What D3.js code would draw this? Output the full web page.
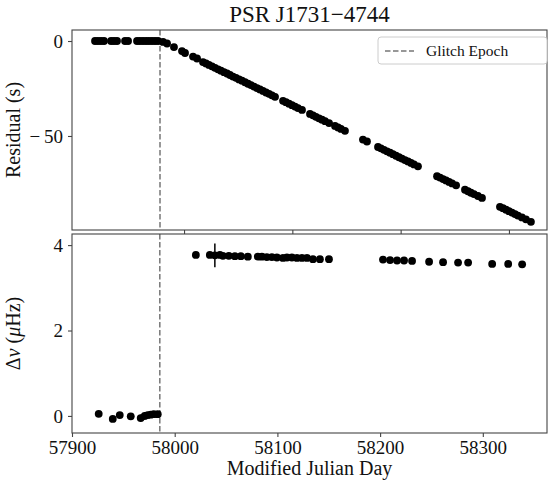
<!DOCTYPE html>
<html>
<head>
<meta charset="utf-8">
<script src="https://cdn.jsdelivr.net/npm/d3@7"></script>
<style>
  body { margin: 0; background: #fff; }
  svg text { font-family: "Liberation Serif", "DejaVu Serif", serif; fill: #111; }
  .axis path, .axis line { stroke: #444; stroke-width: 1.1; }
</style>
</head>
<body>
<svg width="549" height="485"></svg>
<script>
// glitch epoch (MJD)
const glitchEpoch = 57985.5;

// timing residuals, top panel
const resMJD = [
  57925.5, 57928.2, 57931.0, 57933.8, 57940.3, 57943.0, 57945.8, 57953.2, 57956.0,
  57964.3, 57967.0, 57969.8, 57972.6, 57975.3, 57978.1, 57980.9, 57983.7,
  57988.3, 57992.0, 57998.4, 58005.8, 58008.6, 58016.0, 58019.7,
  58025.2, 58028.0, 58030.7, 58033.5, 58036.3, 58039.1, 58041.8, 58044.6, 58047.4, 58050.1,
  58052.9, 58055.7, 58058.5, 58061.2, 58064.0, 58066.8, 58069.5, 58072.3, 58075.1, 58077.8,
  58080.6, 58083.4, 58086.2, 58088.9, 58091.7,
  58099.1, 58101.8, 58104.6, 58107.4, 58110.2, 58112.9, 58116.6,
  58124.0, 58126.8, 58129.5, 58132.3, 58135.1, 58137.9, 58141.6,
  58147.1, 58149.9, 58152.6, 58156.3,
  58172.9, 58176.6,
  58186.8, 58189.5, 58192.3, 58195.1, 58197.9, 58200.6, 58203.4, 58206.2, 58208.9, 58211.7,
  58214.5, 58217.3, 58220.0, 58223.7,
  58241.3, 58244.1, 58246.9, 58249.6, 58252.4, 58255.2, 58258.9,
  58267.1, 58269.9, 58272.6, 58275.4, 58279.1, 58282.8,
  58299.4, 58302.2, 58305.0, 58307.7, 58310.5, 58313.3, 58316.0, 58319.7, 58323.4, 58328.0
];
const resSec = [
  0.0, 0.0, 0.0, 0.0, 0.0, 0.0, 0.0, 0.0, 0.0,
  0.0, 0.0, 0.0, 0.0, 0.0, 0.0, 0.0, 0.0,
  -0.5, -1.3, -3.2, -5.3, -6.3, -8.2, -9.2,
  -11.1, -11.8, -12.6, -13.3, -14.1, -14.9, -15.6, -16.4, -17.1, -17.9,
  -18.7, -19.4, -20.2, -20.9, -21.7, -22.5, -23.2, -24.0, -24.8, -25.5,
  -26.3, -27.1, -27.8, -28.6, -29.4,
  -31.5, -32.2, -33.0, -33.8, -34.5, -35.3, -36.3,
  -38.4, -39.1, -39.9, -40.7, -41.4, -42.2, -43.2,
  -44.7, -45.5, -46.3, -47.3,
  -51.9, -52.9,
  -55.8, -56.5, -57.3, -58.1, -58.8, -59.6, -60.4, -61.2, -61.9, -62.7,
  -63.4, -64.2, -65.0, -66.0,
  -71.2, -71.9, -72.7, -73.4, -74.2, -75.0, -76.0,
  -78.3, -79.1, -79.9, -80.6, -81.6, -82.6,
  -87.3, -88.0, -88.8, -89.6, -90.3, -91.1, -91.9, -92.9, -93.9, -95.2
];

// frequency step, bottom panel
const dnuMJD = [
  57926.0, 57939.7, 57946.5, 57957.2, 57966.9, 57970.8, 57973.8, 57976.7, 57979.6, 57983.5,
  58020.6, 58034.2, 58039.1, 58044.0, 58046.9, 58052.7, 58058.6, 58064.4, 58071.2,
  58080.9, 58084.9, 58089.7, 58094.6, 58099.5, 58105.4, 58109.3, 58114.1, 58119.0,
  58123.9, 58128.8, 58134.6, 58141.4, 58150.2,
  58202.8, 58209.7, 58216.5, 58223.3, 58231.1, 58247.7, 58261.3, 58275.9, 58285.7,
  58309.1, 58324.7, 58338.3
];
const dnuVal = [
  0.05, -0.07, 0.02, -0.01, -0.05, 0.0, 0.02, 0.03, 0.04, 0.04,
  3.77, 3.77, 3.76, 3.77, 3.75, 3.75, 3.74, 3.74, 3.73,
  3.73, 3.73, 3.72, 3.72, 3.71, 3.70, 3.71, 3.71, 3.70,
  3.70, 3.70, 3.67, 3.67, 3.67,
  3.66, 3.65, 3.64, 3.64, 3.63, 3.61, 3.60, 3.59, 3.59,
  3.56, 3.56, 3.55
];
const dnuErr = [
  0.02, 0.02, 0.02, 0.02, 0.08, 0.09, 0.06, 0.05, 0.04, 0.03,
  0.02, 0.03, 0.28, 0.03, 0.02, 0.02, 0.02, 0.02, 0.03,
  0.02, 0.02, 0.02, 0.02, 0.02, 0.05, 0.02, 0.02, 0.02,
  0.02, 0.02, 0.02, 0.02, 0.02,
  0.02, 0.02, 0.02, 0.02, 0.02, 0.02, 0.02, 0.02, 0.02,
  0.02, 0.02, 0.02
];

const topTicksX = [58007.7, 58107.7, 58207.7, 58307.7];
const topTicksY = [0, -50];
const botTicksX = [57900, 58000, 58100, 58200, 58300];
const botTicksY = [0, 2, 4];

const svg = d3.select('svg');
const left = 72, right = 547;
const top1 = 30, bot1 = 230, top2 = 234, bot2 = 433;

const xTop = d3.scaleLinear().domain([57904.24, 58342.84]).range([left, right]);
const yTop = d3.scaleLinear().domain([5.8, -99.5]).range([top1, bot1]);
const xBot = d3.scaleLinear().domain([57900, 58362.5]).range([left, right]);
const yBot = d3.scaleLinear().domain([4.26, -0.40]).range([top2, bot2]);

// LaTeX-like minus with a little room after it
const fmt = d => d < 0 ? '\u2212\u2009' + Math.abs(d) : String(d);

// glitch epoch lines
svg.append('line')
  .attr('x1', xTop(glitchEpoch)).attr('x2', xTop(glitchEpoch))
  .attr('y1', top1).attr('y2', bot1)
  .attr('stroke', '#777').attr('stroke-width', 1.5).attr('stroke-dasharray', '5.5,2.5');
svg.append('line')
  .attr('x1', xBot(glitchEpoch)).attr('x2', xBot(glitchEpoch))
  .attr('y1', top2).attr('y2', bot2)
  .attr('stroke', '#777').attr('stroke-width', 1.5).attr('stroke-dasharray', '5.5,2.5');

// top panel data
svg.append('g').selectAll('circle').data(resMJD)
  .enter().append('circle')
    .attr('cx', d => xTop(d))
    .attr('cy', (d, i) => yTop(resSec[i]))
    .attr('r', 3.9)
    .attr('fill', '#000');

// bottom panel data with error bars
const eb = svg.append('g');
eb.selectAll('line').data(dnuMJD)
  .enter().append('line')
    .attr('x1', d => xBot(d)).attr('x2', d => xBot(d))
    .attr('y1', (d, i) => yBot(dnuVal[i] + dnuErr[i]))
    .attr('y2', (d, i) => yBot(dnuVal[i] - dnuErr[i]))
    .attr('stroke', '#000').attr('stroke-width', 1.5);
eb.selectAll('circle').data(dnuMJD)
  .enter().append('circle')
    .attr('cx', d => xBot(d))
    .attr('cy', (d, i) => yBot(dnuVal[i]))
    .attr('r', 3.9)
    .attr('fill', '#000');

// axes
const tickFont = g => g.selectAll('text')
  .style('font-family', '"Liberation Serif", serif')
  .style('font-size', '19px').attr('fill', '#222');

svg.append('g').attr('class', 'axis')
  .attr('transform', `translate(${left},0)`)
  .call(d3.axisLeft(yTop).tickValues(topTicksY).tickFormat(fmt).tickSize(4).tickPadding(5))
  .call(tickFont)
  .call(g => g.select('.domain').remove());
svg.append('g').attr('class', 'axis')
  .attr('transform', `translate(0,${bot1})`)
  .call(d3.axisBottom(xTop).tickValues(topTicksX).tickFormat('').tickSize(4))
  .call(g => g.select('.domain').remove());

svg.append('g').attr('class', 'axis')
  .attr('transform', `translate(${left},0)`)
  .call(d3.axisLeft(yBot).tickValues(botTicksY).tickFormat(fmt).tickSize(4).tickPadding(5))
  .call(tickFont)
  .call(g => g.select('.domain').remove());
svg.append('g').attr('class', 'axis')
  .attr('transform', `translate(0,${bot2})`)
  .call(d3.axisBottom(xBot).tickValues(botTicksX).tickFormat(d3.format('d')).tickSize(4).tickPadding(4))
  .call(tickFont)
  .call(g => g.select('.domain').remove());

// frames
[[top1, bot1], [top2, bot2]].forEach(([t, b]) => {
  svg.append('rect')
    .attr('x', left).attr('y', t)
    .attr('width', right - left).attr('height', b - t)
    .attr('fill', 'none').attr('stroke', '#444').attr('stroke-width', 1.1);
});

// legend
const lg = svg.append('g').attr('transform', 'translate(378,37)');
lg.append('rect')
  .attr('width', 169).attr('height', 27).attr('rx', 3)
  .attr('fill', '#fff').attr('stroke', '#ccc');
lg.append('line')
  .attr('x1', 7).attr('x2', 36).attr('y1', 14).attr('y2', 14)
  .attr('stroke', '#777').attr('stroke-width', 1.5).attr('stroke-dasharray', '5.5,2.5');
lg.append('text').attr('x', 48).attr('y', 19)
  .style('font-size', '15.5px').text('Glitch Epoch');

// labels
svg.append('text')
  .attr('x', (left + right) / 2).attr('y', 22)
  .attr('text-anchor', 'middle').style('font-size', '23px')
  .text('PSR J1731\u22124744');

svg.append('text')
  .attr('transform', `translate(20,${(top1 + bot1) / 2}) rotate(-90)`)
  .attr('text-anchor', 'middle').style('font-size', '20px')
  .text('Residual (s)');

const yl2 = svg.append('text')
  .attr('transform', `translate(20,${(top2 + bot2) / 2}) rotate(-90)`)
  .attr('text-anchor', 'middle').style('font-size', '20px');
yl2.append('tspan').text('\u0394');
yl2.append('tspan').style('font-style', 'italic').text('\u03bd');
yl2.append('tspan').text(' (');
yl2.append('tspan').style('font-style', 'italic').text('\u03bc');
yl2.append('tspan').text('Hz)');

svg.append('text')
  .attr('x', (left + right) / 2).attr('y', 475)
  .attr('text-anchor', 'middle').style('font-size', '20px')
  .text('Modified Julian Day');
</script>
</body>
</html>
